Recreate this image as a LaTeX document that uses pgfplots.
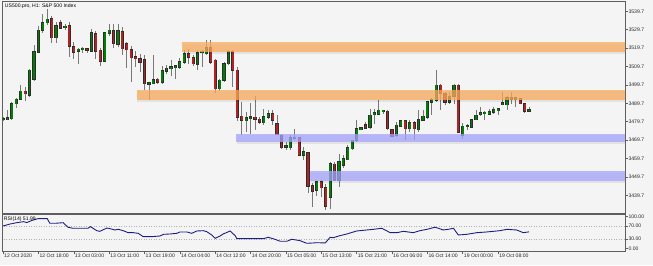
\documentclass[border=0pt]{standalone}
\usepackage{fontspec}
\setmainfont{Liberation Sans}
\usepackage{pgfplots}
\pgfplotsset{compat=1.18}
\usepackage{pgfplotstable}
\definecolor{bg}{RGB}{244,244,244}
\definecolor{cgreen}{RGB}{0,128,0}
\definecolor{cred}{RGB}{178,34,34}
\definecolor{cedge}{RGB}{45,45,45}
\definecolor{wick}{RGB}{120,120,120}
\definecolor{zorange}{RGB}{250,172,95}
\definecolor{zblue}{RGB}{165,165,255}
\definecolor{rsiline}{RGB}{30,30,130}
\definecolor{frame}{RGB}{95,95,95}

\pgfplotstableread{
i o h l c
0 3481.0 3482.0 3480.0 3481.2
1 3481.2 3485.9 3480.8 3481.6
2 3481.4 3490.2 3480.8 3489.5
3 3489.5 3492.5 3487.0 3491.9
4 3491.9 3499.5 3491.5 3496.2
5 3496.2 3498.5 3491.0 3495.0
6 3494.0 3508.2 3493.3 3507.6
7 3502.7 3521.6 3502.0 3517.6
8 3517.6 3531.9 3516.8 3529.4
9 3529.4 3538.4 3528.0 3533.5
10 3533.5 3541.2 3532.5 3535.4
11 3535.7 3537.0 3522.5 3525.4
12 3525.4 3534.0 3522.7 3531.7
13 3533.6 3535.0 3529.8 3530.6
14 3530.9 3533.0 3529.5 3531.5
15 3531.7 3534.0 3515.0 3520.8
16 3520.3 3523.0 3514.0 3517.6
17 3518.0 3520.0 3511.0 3519.0
18 3519.2 3520.3 3516.8 3519.5
19 3519.4 3520.0 3516.8 3518.6
20 3518.1 3530.0 3517.6 3527.9
21 3527.6 3529.0 3514.0 3518.1
22 3518.5 3519.5 3509.9 3512.7
23 3512.7 3528.2 3512.0 3527.9
24 3527.9 3533.0 3526.5 3529.4
25 3529.0 3533.0 3520.0 3522.1
26 3521.8 3533.0 3520.5 3529.0
27 3528.4 3531.0 3516.0 3519.4
28 3522.1 3523.0 3509.0 3518.9
29 3518.9 3521.0 3501.0 3514.5
30 3514.8 3518.0 3509.5 3514.3
31 3514.0 3516.5 3506.5 3512.0
32 3513.4 3516.0 3497.0 3500.4
33 3500.4 3501.5 3491.3 3500.6
34 3500.4 3515.8 3500.0 3502.6
35 3502.7 3503.5 3500.0 3501.1
36 3501.3 3510.0 3500.3 3507.3
37 3507.3 3510.6 3505.8 3508.7
38 3508.7 3513.0 3504.5 3509.5
39 3509.5 3510.5 3503.0 3509.8
40 3509.5 3514.5 3508.5 3512.1
41 3512.1 3518.4 3511.3 3516.7
42 3516.7 3519.2 3511.3 3514.9
43 3514.5 3515.8 3510.2 3511.3
44 3511.0 3518.4 3508.0 3517.0
45 3517.3 3518.4 3509.5 3517.8
46 3516.7 3523.9 3515.8 3519.8
47 3519.8 3523.9 3511.3 3512.1
48 3513.1 3514.0 3495.5 3497.7
49 3497.7 3503.0 3496.5 3502.2
50 3502.2 3512.1 3501.3 3511.3
51 3511.3 3518.5 3510.5 3518.0
52 3518.0 3518.8 3498.6 3507.6
53 3507.6 3509.6 3480.0 3482.3
54 3482.6 3490.4 3472.3 3480.5
55 3480.3 3485.0 3474.0 3481.7
56 3481.8 3490.0 3473.0 3482.0
57 3482.0 3493.7 3475.0 3481.0
58 3481.0 3482.3 3478.7 3479.5
59 3479.2 3486.4 3477.8 3482.3
60 3482.3 3485.9 3481.4 3484.1
61 3484.1 3485.9 3477.8 3480.5
62 3478.7 3483.2 3472.3 3472.7
63 3472.3 3473.2 3465.1 3465.6
64 3466.1 3468.7 3464.2 3466.4
65 3465.6 3472.3 3464.2 3470.8
66 3470.7 3475.9 3469.6 3471.0
67 3470.8 3471.4 3461.0 3461.4
68 3461.4 3466.0 3458.7 3463.2
69 3462.9 3463.2 3440.8 3444.7
70 3444.7 3446.6 3433.3 3441.9
71 3442.4 3447.3 3439.3 3446.9
72 3446.9 3447.8 3438.8 3443.9
73 3443.9 3446.0 3431.5 3433.9
74 3438.8 3457.8 3432.5 3456.9
75 3456.5 3457.8 3447.3 3447.8
76 3448.0 3462.0 3444.0 3457.8
77 3456.0 3461.4 3454.4 3459.6
78 3459.1 3466.9 3458.7 3465.6
79 3465.1 3470.0 3464.2 3469.6
80 3469.6 3480.5 3468.7 3475.9
81 3475.8 3476.9 3475.5 3476.0
82 3478.1 3479.5 3475.9 3476.3
83 3476.8 3486.8 3475.9 3483.2
84 3484.0 3486.8 3478.7 3484.2
85 3483.8 3491.3 3483.2 3485.9
86 3485.4 3486.0 3484.0 3485.6
87 3485.4 3485.9 3475.0 3475.9
88 3475.4 3475.9 3471.4 3471.8
89 3472.3 3479.5 3471.4 3477.7
90 3477.2 3480.5 3476.8 3480.1
91 3480.1 3480.8 3470.0 3475.9
92 3475.9 3480.5 3474.1 3479.0
93 3479.0 3480.1 3470.0 3475.9
94 3475.4 3485.9 3474.1 3480.8
95 3480.5 3486.3 3480.1 3482.6
96 3482.3 3491.0 3481.4 3490.4
97 3490.2 3492.3 3483.2 3491.7
98 3491.3 3508.0 3490.4 3499.5
99 3499.5 3500.0 3485.9 3495.0
100 3495.0 3495.8 3488.6 3490.4
101 3490.4 3495.8 3489.2 3493.5
102 3493.5 3500.0 3489.2 3499.5
103 3499.5 3500.0 3474.0 3474.1
104 3472.3 3479.0 3470.5 3477.2
105 3477.1 3478.7 3475.0 3477.3
106 3476.8 3481.4 3476.8 3480.8
107 3480.8 3486.3 3480.5 3483.2
108 3484.0 3487.7 3482.6 3484.2
109 3484.3 3485.5 3480.5 3484.5
110 3483.7 3486.8 3483.7 3485.0
111 3485.0 3487.7 3484.1 3486.3
112 3486.2 3486.8 3483.2 3486.4
113 3489.4 3495.8 3488.6 3489.6
114 3489.0 3493.5 3486.3 3492.8
115 3492.2 3495.8 3489.5 3492.4
116 3492.2 3492.8 3487.7 3492.4
117 3492.3 3492.8 3489.2 3489.5
118 3489.5 3489.9 3484.4 3485.5
119 3485.4 3487.7 3485.2 3486.3
}\candles

\pgfplotstableread{
i r
0 70.6
1.6 76.9
3.1 81.0
4.6 84.2
5.4 81.5
6.5 88.0
7.9 93.7
10 93.7
10.6 79.1
11.8 79.1
13.6 81.0
14.7 66.5
15.8 63.3
19.2 63.3
19.8 68.4
21.2 55.7
21.9 53.7
23.5 64.2
24.2 62.1
25.3 57.9
26.1 60.0
27.2 55.7
28.3 49.4
29.5 49.4
30.6 47.3
31.7 36.8
33.6 36.8
35.5 38.9
36.3 44.2
37.8 45.3
39.3 47.3
40 51.6
41.6 51.6
42.7 47.3
43.8 54.7
45.3 55.7
46.1 52.6
47.2 42.1
48 31.6
49.1 38.9
49.8 45.3
51.4 54.7
52.5 39.9
52.9 30.4
58.9 30.4
60 34.8
61.5 28.5
62.7 22.2
64.2 22.2
65.3 28.5
67.2 24.1
68.7 15.8
70.2 16.9
71 17.7
72.9 16.9
74 34.8
74.7 33.5
76.2 39.9
77.8 45.3
80 54.7
82.3 57.9
83.8 60.0
85.7 63.3
87.6 49.4
89.1 49.4
90.6 53.7
92.8 49.4
94.3 55.7
95.9 60.0
97.7 66.5
98.5 63.3
99.6 57.9
100.7 60.0
101.9 63.3
103 42.1
104.9 44.2
107.2 49.4
109.4 51.6
112.4 55.7
114 60.0
116.2 57.9
117.7 49.4
119 51.99
}\rsi

\pgfplotsset{
  mtfont/.style={font=\fontsize{5.1}{5.5}\selectfont},
  candle/.style n args={3}{draw=none, mark=none,
    restrict expr to domain={\thisrow{c}-\thisrow{o}}{#1},
    error bars/.cd, y dir=both, y explicit, error mark=none,
    error bar style={draw=#2, line width=#3}},
}

\begin{document}
\begin{tikzpicture}[x=1pt,y=1pt]
\fill[bg] (0,0) rectangle (653,265);
\begin{axis}[
  at={(2.6pt,51.7pt)}, anchor=south west, scale only axis,
  width=622.4pt, height=211.5pt,
  xmin=-0.1, xmax=140.71, ymin=3429.9, ymax=3544.85,
  axis line style={frame, line width=0.8pt},
  xtick=\empty,
  ytick={3439.7,3449.7,3459.7,3469.7,3479.7,3489.7,3499.7,3509.7,3519.7,3529.7,3539.7},
  ytick pos=upper, yticklabel pos=upper,
  tick align=outside, major tick length=2.5pt,
  tick style={frame, line width=0.5pt},
  /pgf/number format/assume math mode=true,
  yticklabel style={mtfont, text=black!85, inner sep=0.8pt,
    /pgf/number format/.cd, fixed, fixed zerofill, precision=1, 1000 sep={}},
]
% wicks
\addplot[draw=none, mark=none, error bars/.cd, y dir=both, y explicit, error mark=none,
  error bar style={draw=wick, line width=0.8pt}]
  table[x=i, y expr={(\thisrow{h}+\thisrow{l})/2}, y error expr={(\thisrow{h}-\thisrow{l})/2}] {\candles};
% bull bodies
\addplot[candle={0:1000}{cedge}{3.2pt}]
  table[x=i, y expr={(\thisrow{o}+\thisrow{c})/2}, y error expr={max(abs(\thisrow{c}-\thisrow{o})/2,0.3)+0.35}] {\candles};
\addplot[candle={0:1000}{cgreen}{1.8pt}]
  table[x=i, y expr={(\thisrow{o}+\thisrow{c})/2}, y error expr={max(abs(\thisrow{c}-\thisrow{o})/2,0.3)}] {\candles};
% bear bodies
\addplot[candle={-1000:-0.0001}{cedge}{3.2pt}]
  table[x=i, y expr={(\thisrow{o}+\thisrow{c})/2}, y error expr={max(abs(\thisrow{c}-\thisrow{o})/2,0.3)+0.35}] {\candles};
\addplot[candle={-1000:-0.0001}{cred}{1.8pt}]
  table[x=i, y expr={(\thisrow{o}+\thisrow{c})/2}, y error expr={max(abs(\thisrow{c}-\thisrow{o})/2,0.3)}] {\candles};
% zones (shadow + fill)
\addplot[draw=none, fill=black, fill opacity=0.07] coordinates {(40.7,3516.6) (142,3516.6) (142,3522.0) (40.7,3522.0)} -- cycle;
\addplot[draw=none, fill=zorange, fill opacity=0.75] coordinates {(40.5,3517.6) (142,3517.6) (142,3523.0) (40.5,3523.0)} -- cycle;
\addplot[draw=none, fill=black, fill opacity=0.07] coordinates {(30.4,3490.3) (142,3490.3) (142,3496.1) (30.4,3496.1)} -- cycle;
\addplot[draw=none, fill=zorange, fill opacity=0.75] coordinates {(30.2,3491.3) (142,3491.3) (142,3497.1) (30.2,3497.1)} -- cycle;
\addplot[draw=none, fill=black, fill opacity=0.07] coordinates {(52.9,3467.5) (142,3467.5) (142,3472.2) (52.9,3472.2)} -- cycle;
\addplot[draw=none, fill=zblue, fill opacity=0.75] coordinates {(52.7,3468.5) (142,3468.5) (142,3473.2) (52.7,3473.2)} -- cycle;
\addplot[draw=none, fill=black, fill opacity=0.07] coordinates {(69.7,3446.3) (142,3446.3) (142,3451.7) (69.7,3451.7)} -- cycle;
\addplot[draw=none, fill=zblue, fill opacity=0.75] coordinates {(69.5,3447.3) (142,3447.3) (142,3452.7) (69.5,3452.7)} -- cycle;
\end{axis}

\begin{axis}[
  at={(2.6pt,13.3pt)}, anchor=south west, scale only axis,
  width=622.4pt, height=37.7pt,
  xmin=-0.1, xmax=140.71, ymin=-10.8, ymax=108.5,
  axis line style={frame, line width=0.8pt},
  xtick={0,8,16,24,32,40,48,56,64,72,80,88,96,104,112},
  xticklabels={12 Oct 2020,12 Oct 18:00,13 Oct 03:00,13 Oct 11:00,13 Oct 19:00,14 Oct 04:00,14 Oct 12:00,14 Oct 20:00,15 Oct 05:00,15 Oct 13:00,15 Oct 21:00,16 Oct 06:00,16 Oct 14:00,19 Oct 00:00,19 Oct 08:00},
  xtick pos=lower,
  ytick={0,30,70,100}, ytick pos=upper, yticklabel pos=upper,
  tick align=outside, major tick length=2.5pt,
  tick style={frame, line width=0.5pt},
  /pgf/number format/assume math mode=true,
  yticklabel style={mtfont, text=black!85, inner sep=0.8pt,
    /pgf/number format/.cd, fixed, fixed zerofill, precision=2},
  xticklabel style={mtfont, text=black!85, anchor=north west, inner sep=0pt, xshift=1pt},
]
\addplot[draw=black!30, dotted, line width=0.5pt] coordinates {(-1,30) (142,30)};
\addplot[draw=black!30, dotted, line width=0.5pt] coordinates {(-1,70) (142,70)};
\addplot[draw=rsiline, line width=0.9pt, mark=none] table[x=i, y=r] {\rsi};
\end{axis}

\node[anchor=west, inner sep=0pt, font=\fontsize{5.1}{5.5}\selectfont] at (4.8,259.2) {US500.pro, H1: S\&P 500 Index};
\node[anchor=west, inner sep=0pt, font=\fontsize{5.1}{5.5}\selectfont] at (3.8,45.7) {RSI(14) 51.99};
\end{tikzpicture}
\end{document}
